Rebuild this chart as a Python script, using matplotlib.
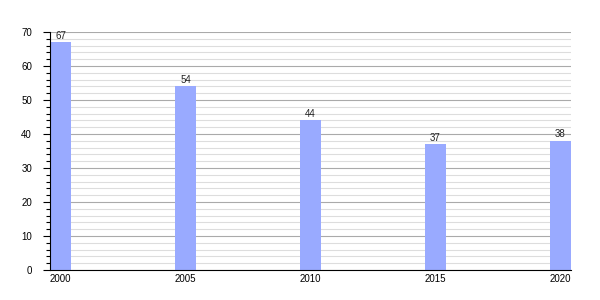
import matplotlib
matplotlib.use("Agg")
import matplotlib.pyplot as plt
from matplotlib.ticker import MultipleLocator

years = ["2000", "2005", "2010", "2015", "2020"]
values = [67, 54, 44, 37, 38]

plt.rcParams['font.family'] = ['Liberation Sans', 'DejaVu Sans']

fig = plt.figure(figsize=(6, 3), dpi=100)
ax = fig.add_axes([50/600, 30/300, 521/600, 238/300])

x = list(range(len(years)))
w = 0.168
bars = ax.bar(x, values, width=w, color="#99aaff", zorder=2)
for xi, v in zip(x, values):
    ax.text(xi, v + 0.4, str(v), ha="center", va="bottom", fontsize=7, color="#222222", zorder=3)

ax.set_xlim(-w/2, len(years) - 1 + w/2)
ax.set_ylim(0, 70)
ax.set_xticks(x)
ax.set_xticklabels(years)
ax.yaxis.set_major_locator(MultipleLocator(10))
ax.yaxis.set_minor_locator(MultipleLocator(2))
ax.grid(axis="y", which="major", color="#aaaaaa", linewidth=0.8, zorder=0)
ax.grid(axis="y", which="minor", color="#dddddd", linewidth=0.8, zorder=0)
ax.set_axisbelow(True)
for s in ["top", "right"]:
    ax.spines[s].set_visible(False)
ax.spines["left"].set_color("black")
ax.spines["bottom"].set_color("black")
ax.tick_params(axis="y", which="major", length=5, width=0.8, labelsize=7, pad=8)
ax.tick_params(axis="y", which="minor", length=3, width=0.8)
ax.tick_params(axis="x", length=0, labelsize=7, pad=3)

fig.savefig("out.png", dpi=100)
